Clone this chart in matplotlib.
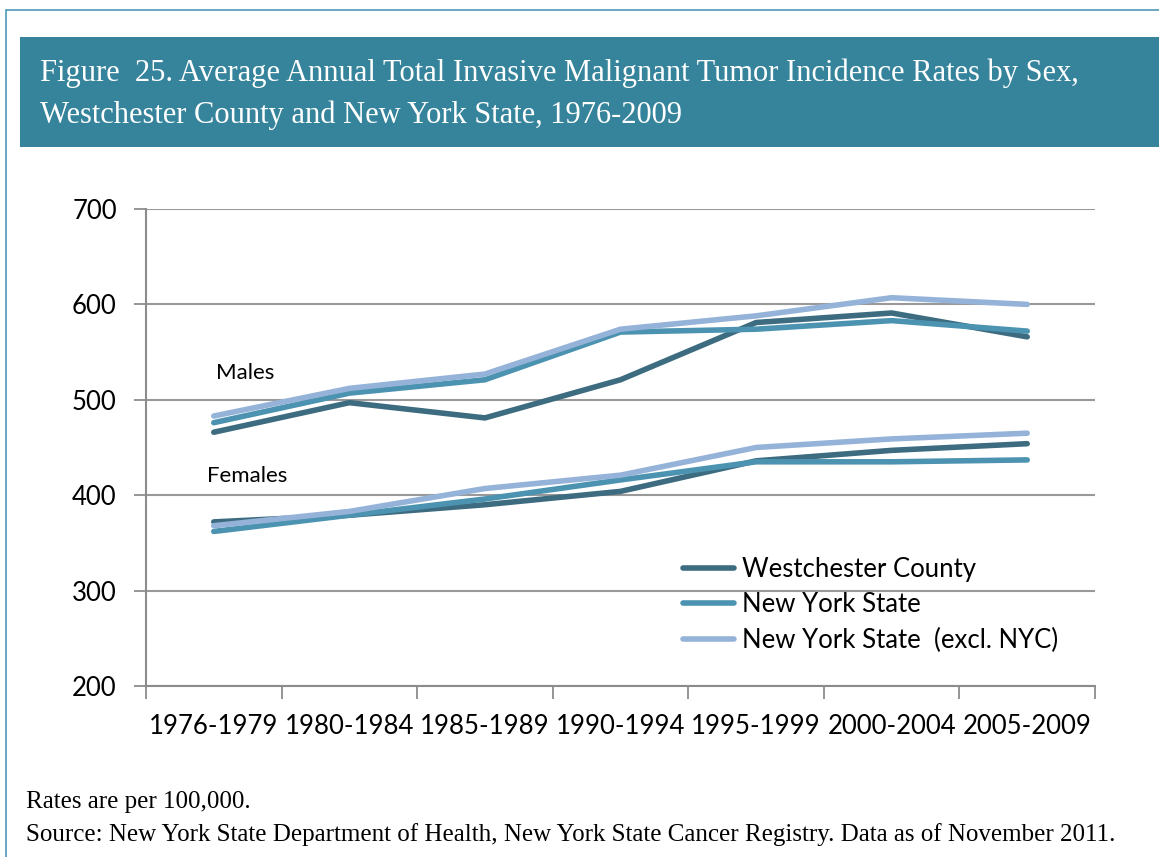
import matplotlib
matplotlib.use("Agg")
from matplotlib import pyplot as plt
from matplotlib.patches import Rectangle
import numpy as np

periods = ["1976-1979", "1980-1984", "1985-1989", "1990-1994",
           "1995-1999", "2000-2004", "2005-2009"]

# males
male_westchester = [466, 497, 481, 521, 581, 591, 566]
male_nys = [476, 507, 521, 571, 574, 583, 572]
male_nys_excl = [483, 512, 527, 574, 588, 607, 600]

# females
female_westchester = [372, 379, 390, 404, 436, 447, 454]
female_nys = [362, 379, 396, 416, 435, 435, 437]
female_nys_excl = [368, 383, 407, 421, 450, 459, 465]

series_names = ["Westchester County", "New York State", "New York State  (excl. NYC)"]
colors = ["#3d6b80", "#4b93b0", "#95b3d8"]

W, H = 1159, 857
fig = plt.figure(figsize=(W / 100, H / 100), dpi=100)

# outer frame + title band
fig.patches.append(Rectangle((6 / W, -0.1), 1.2, 1 - 10 / H + 0.1, transform=fig.transFigure,
                             fill=False, edgecolor="#4d9bb8", lw=1.2))
fig.patches.append(Rectangle((20 / W, 1 - 147 / H), 1, 110 / H, transform=fig.transFigure,
                             facecolor="#35849c", edgecolor="none"))
fig.text(40 / W, 1 - 73 / H, "Figure  25. Average Annual Total Invasive Malignant Tumor Incidence Rates by Sex,",
         color="white", fontsize=22, family="Liberation Serif", va="center")
fig.text(40 / W, 1 - 115 / H, "Westchester County and New York State, 1976-2009",
         color="white", fontsize=22, family="Liberation Serif", va="center")

ax = fig.add_axes([146 / W, 1 - 686 / H, 949 / W, 477 / H])
x = np.arange(len(periods))

for vals, c, name in zip([male_westchester, male_nys, male_nys_excl], colors, series_names):
    ax.plot(x, vals, color=c, lw=4, solid_capstyle="round", label=name, zorder=3)
for vals, c in zip([female_westchester, female_nys, female_nys_excl], colors):
    ax.plot(x, vals, color=c, lw=4, solid_capstyle="round", zorder=3)

ax.set_xlim(-0.5, len(periods) - 0.5)
ax.set_ylim(200, 700)
ax.set_yticks(np.arange(200, 701, 100))
ax.set_xticks(x)
ax.set_xticklabels(periods)
ax.set_xticks(np.arange(-0.5, len(periods)), minor=True)
ax.tick_params(axis="x", which="major", length=0, pad=20, labelsize=18.5)
ax.tick_params(axis="x", which="minor", length=9, width=1.3, color="#8c8c8c", direction="out")
ax.tick_params(axis="y", length=9, width=1.3, color="#8c8c8c", labelsize=18.5, pad=12)
for lab in ax.get_xticklabels() + ax.get_yticklabels():
    lab.set_family("Lato")

ax.grid(True, axis="y", color="#999999", lw=1.5)
ax.set_axisbelow(True)
for s in ["top", "right"]:
    ax.spines[s].set_visible(False)
for s in ["left", "bottom"]:
    ax.spines[s].set_color("#8c8c8c")
    ax.spines[s].set_linewidth(1.5)

ax.text(0.02, 522, "Males", fontsize=16, family="Lato")
ax.text(-0.05, 414, "Females", fontsize=16, family="Lato")

leg = ax.legend(loc="upper left", bbox_to_anchor=(0.555, 0.293), frameon=False,
                prop={"family": "Lato", "size": 18.5}, handlelength=2.0,
                handletextpad=0.3, labelspacing=0.42, borderaxespad=0)

fig.text(26 / W, 1 - 802 / H, "Rates are per 100,000.", fontsize=18,
         family="Liberation Serif", va="center")
fig.text(26 / W, 1 - 835 / H,
         "Source: New York State Department of Health, New York State Cancer Registry. Data as of November 2011.",
         fontsize=18, family="Liberation Serif", va="center")

fig.savefig("out.png", dpi=100)
